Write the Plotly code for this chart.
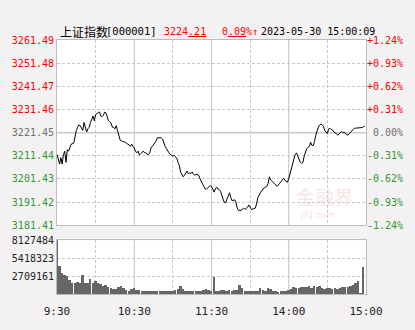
import plotly.graph_objects as go

# ---------------- data ----------------
pre_close = 3221.45
price_ticks = [3181.41, 3191.42, 3201.43, 3211.44, 3221.45, 3231.46, 3241.47, 3251.48, 3261.49]
pct_labels = ["-1.24%", "-0.93%", "-0.62%", "-0.31%", "0.00%", "+0.31%", "+0.62%", "+0.93%", "+1.24%"]
vol_ticks = [2709161, 5418323, 8127484]
time_ticks = [0, 30, 60, 90, 120, 150, 180, 210, 240]
time_labels = ["9:30", "", "10:30", "", "11:30", "", "14:00", "", "15:00"]

minutes = [0, 2, 3, 4, 5, 6, 7, 8, 9, 10, 11, 13, 14, 15, 16, 17, 18, 19, 20, 21, 22, 23, 24, 25, 26, 27, 28, 29, 30,
           32, 33, 34, 35, 36, 37, 38, 39, 40, 41, 42, 43, 44, 45, 46, 47, 48, 49, 50, 52, 53, 55, 56, 57, 58, 59, 60,
           61, 62, 63, 64, 65, 66, 67, 68, 69, 70, 71, 72, 73, 74, 75, 76, 77, 78, 79, 80, 81, 82, 83, 84, 85, 86, 87,
           88, 89, 90, 91, 92, 93, 94, 95, 96, 97, 98, 99, 100, 101, 102, 103, 104, 105, 106, 107, 108, 109, 110, 111,
           112, 113, 114, 115, 116, 117, 118, 119, 120, 121, 122, 123, 124, 125, 126, 127, 128, 129, 130, 131, 132, 134,
           135, 136, 138, 139, 140, 141, 143, 144, 145, 146, 148, 149, 150, 151, 153, 154, 155, 156, 158, 159, 160, 161,
           163, 164, 165, 166, 168, 169, 170, 171, 173, 174, 175, 176, 178, 179, 180, 181, 182, 183, 184, 185, 186, 187,
           188, 189, 190, 191, 192, 193, 194, 195, 196, 197, 198, 199, 200, 201, 202, 203, 204, 205, 206, 207, 208, 209,
           210, 211, 212, 213, 214, 215, 216, 217, 218, 219, 220, 221, 222, 223, 224, 225, 226, 227, 228, 229, 230, 231,
           232, 233, 234, 235, 236, 237, 238, 239]
prices = [3212.04, 3207.89, 3210.66, 3207.89, 3212.04, 3213.42, 3208.59, 3214.12, 3213.42, 3215.50, 3216.47, 3216.88,
          3220.34, 3222.41, 3223.79, 3224.76, 3224.48, 3223.10, 3222.41, 3225.86, 3223.79, 3221.72, 3223.10, 3223.79,
          3225.86, 3227.25, 3228.63, 3226.56, 3229.32, 3230.01, 3230.43, 3228.63, 3228.35, 3228.91, 3230.29, 3230.01,
          3228.63, 3226.56, 3226.14, 3225.59, 3223.79, 3223.79, 3223.10, 3224.48, 3222.41, 3220.34, 3218.26, 3217.85,
          3217.57, 3217.29, 3216.47, 3216.19, 3215.50, 3216.47, 3215.50, 3214.81, 3213.42, 3212.73, 3213.42, 3211.77,
          3212.32, 3213.01, 3213.42, 3212.73, 3212.73, 3212.04, 3212.04, 3212.73, 3214.81, 3215.50, 3216.19, 3216.88,
          3217.85, 3219.23, 3219.23, 3218.95, 3219.23, 3218.68, 3216.88, 3215.50, 3214.53, 3213.42, 3212.73, 3212.04,
          3211.77, 3211.35, 3211.63, 3210.94, 3210.38, 3208.59, 3207.20, 3204.44, 3203.06, 3202.37, 3203.06, 3203.75,
          3204.85, 3203.75, 3204.02, 3203.75, 3204.44, 3203.47, 3203.06, 3203.47, 3203.33, 3203.06, 3201.67, 3200.29,
          3198.91, 3198.22, 3197.11, 3197.11, 3197.53, 3197.94, 3198.50, 3198.22, 3197.11, 3195.73, 3197.11, 3197.94,
          3197.11, 3196.84, 3196.15, 3194.07, 3192.69, 3191.31, 3191.03, 3192.69, 3195.45, 3193.38, 3192.00, 3192.41,
          3191.31, 3188.82, 3187.85, 3187.85, 3188.54, 3188.82, 3188.27, 3189.23, 3190.20, 3189.23, 3188.27, 3188.54,
          3188.82, 3190.62, 3193.38, 3195.45, 3196.56, 3197.11, 3197.53, 3198.22, 3199.60, 3202.37, 3200.98, 3199.88,
          3199.60, 3198.91, 3198.22, 3199.60, 3200.29, 3201.26, 3201.67, 3200.29, 3200.02, 3201.67, 3203.75, 3205.13,
          3207.89, 3209.55, 3212.04, 3212.73, 3211.35, 3209.97, 3208.59, 3208.17, 3208.59, 3211.35, 3213.42, 3214.53,
          3215.08, 3215.50, 3217.29, 3215.91, 3215.91, 3217.57, 3220.34, 3222.41, 3223.79, 3224.76, 3225.17, 3224.76,
          3224.21, 3222.41, 3221.72, 3221.03, 3223.10, 3223.38, 3222.82, 3222.69, 3221.72, 3221.44, 3221.03, 3220.34,
          3221.03, 3221.72, 3221.99, 3221.44, 3221.72, 3221.03, 3220.61, 3220.34, 3221.03, 3221.72, 3222.41, 3223.10,
          3223.38, 3223.38, 3223.38, 3223.51, 3223.38, 3223.38, 3223.65, 3224.00, 3224.21]

vol_minutes = list(range(0, 240, 2))
volumes = [8127484, 4200000, 3140000, 2850000, 2660000, 2000000, 1650000, 1550000, 1790000, 1550000,
           2850000, 1600000, 1650000, 2180000, 1550000, 1940000, 1690000, 1450000, 1210000, 1350000,
           970000, 870000, 770000, 730000, 1060000, 1110000, 820000, 580000, 480000, 770000,
           820000, 630000, 580000, 480000, 480000, 440000, 480000, 440000, 390000, 440000,
           440000, 390000, 480000, 390000, 390000, 440000, 530000, 730000, 1210000, 730000,
           480000, 390000, 390000, 390000, 390000, 390000, 480000, 530000, 680000, 530000,
           480000, 2560000, 480000, 390000, 580000, 630000, 480000, 580000, 480000, 630000,
           580000, 1310000, 820000, 480000, 390000, 480000, 480000, 440000, 390000, 820000,
           630000, 480000, 870000, 680000, 390000, 480000, 240000, 390000, 440000, 480000,
           630000, 730000, 970000, 820000, 920000, 970000, 970000, 970000, 1210000, 870000,
           1110000, 970000, 1110000, 920000, 770000, 820000, 820000, 730000, 870000, 770000,
           870000, 970000, 1060000, 970000, 1160000, 1350000, 1650000, 1940000, 100000, 4110000]

# ---------------- styling ----------------
RED, GREEN, GRAY = "#ff0000", "#2f9a2f", "#707070"
GRID = "#c8c8c8"
BORDER = "#bcbcbc"
MONO = "DejaVu Sans Mono"


def col(v):
    if v > pre_close + 1e-6:
        return RED
    if v < pre_close - 1e-6:
        return GREEN
    return GRAY


left_text = [f'<span style="color:{col(v)}">{v:.2f}</span>' for v in price_ticks]
right_text = [f'<span style="color:{col(v)}">{lab.rjust(6, chr(160))}</span>'
              for v, lab in zip(price_ticks, pct_labels)]

fig = go.Figure()
fig.add_trace(go.Scatter(x=minutes, y=prices, mode="lines", line=dict(color="#000000", width=1),
                         xaxis="x", yaxis="y", showlegend=False, hoverinfo="skip"))
fig.add_trace(go.Scatter(x=[0, 240], y=[pre_close, pre_close], mode="lines", line=dict(width=0),
                         xaxis="x", yaxis="y3", showlegend=False, hoverinfo="skip"))
fig.add_trace(go.Bar(x=vol_minutes, y=volumes, width=1.5, marker=dict(color="#666666", line=dict(width=0)),
                     xaxis="x2", yaxis="y2", showlegend=False, hoverinfo="skip"))

main_dom = [0.2706, 1.0]
vol_dom = [0.0, 0.2113]

fig.update_layout(
    width=415, height=330,
    margin=dict(l=53, r=42, t=40, b=25),
    paper_bgcolor="#f3f1f2",
    plot_bgcolor="#ffffff",
    font=dict(family=MONO, size=10, color="#333333"),
    bargap=0,
    xaxis=dict(domain=[0, 1], anchor="y", range=[0, 240], tickvals=time_ticks, showticklabels=False,
               showgrid=True, gridcolor=GRID, griddash="3px,2px", gridwidth=1, zeroline=False,
               showline=True, mirror=True, linecolor=BORDER, ticks=""),
    yaxis=dict(domain=main_dom, anchor="x", range=[price_ticks[0], price_ticks[-1]], tickvals=price_ticks,
               ticktext=left_text, showgrid=True, gridcolor=GRID, griddash="3px,2px", zeroline=False,
               showline=True, mirror=True, linecolor=BORDER, ticks="", ticklabelstandoff=0),
    yaxis3=dict(domain=main_dom, anchor="x", overlaying="y", side="right",
                range=[price_ticks[0], price_ticks[-1]], tickvals=price_ticks, ticktext=right_text,
                showgrid=False, zeroline=False, ticks="", ticklabelstandoff=0),
    xaxis2=dict(domain=[0, 1], anchor="y2", range=[0, 240], tickvals=time_ticks, ticktext=time_labels,
                showgrid=True, gridcolor=GRID, griddash="3px,2px", zeroline=False,
                showline=True, mirror=True, linecolor=BORDER, ticks="outside", ticklen=7,
                tickcolor="rgba(0,0,0,0)",
                tickfont=dict(family=MONO, size=11, color="#222222")),
    yaxis2=dict(domain=vol_dom, anchor="x2", range=[0, vol_ticks[-1]], tickvals=vol_ticks,
                ticktext=[str(v) for v in vol_ticks], showgrid=True, gridcolor=GRID, griddash="3px,2px",
                zeroline=False, showline=True, mirror=True, linecolor=BORDER, ticks="",
                ticklabelstandoff=0, tickfont=dict(family=MONO, size=10, color="#222222")),
)

# solid reference lines (hour lines and previous close)
shapes = []
for t in [60, 120, 180]:
    shapes.append(dict(type="line", xref="x", yref="y domain", x0=t, x1=t, y0=0, y1=1,
                       line=dict(color=GRID, width=1), layer="below"))
    shapes.append(dict(type="line", xref="x2", yref="y2 domain", x0=t, x1=t, y0=0, y1=1,
                       line=dict(color=GRID, width=1), layer="below"))
shapes.append(dict(type="line", xref="x domain", yref="y", x0=0, x1=1, y0=pre_close, y1=pre_close,
                   line=dict(color=GRID, width=1.5), layer="below"))
fig.update_layout(shapes=shapes)


def px_x(p):
    return (p - 53) / 320.0


def px_y(p):
    return (305 - p) / 265.0


ann = [
    dict(text="上证指数", x=px_x(54), y=px_y(31), font=dict(family="Noto Sans CJK SC", size=12, color="#000000")),
    dict(text="[000001]", x=px_x(102), y=px_y(31), font=dict(family=MONO, size=10.5, color="#000000")),
    dict(text="3224<u>.21</u>", x=px_x(162), y=px_y(31), font=dict(family=MONO, size=10, color=RED)),
    dict(text="0<u>.09</u>%↑", x=px_x(222), y=px_y(31), font=dict(family=MONO, size=10, color=RED)),
    dict(text="2023-05-30 15:00:09", x=px_x(262), y=px_y(31), font=dict(family=MONO, size=10, color="#000000")),
    dict(text="金融界", x=px_x(298), y=px_y(203), font=dict(family="Noto Sans CJK SC", size=19,
                                                            color="rgba(225,160,160,0.28)")),
    dict(text="JRJ.com", x=px_x(303), y=px_y(223), font=dict(family="DejaVu Sans", size=9,
                                                           color="rgba(225,160,160,0.35)")),
]
for a in ann:
    a.update(xref="paper", yref="paper", xanchor="left", yanchor="middle", showarrow=False)
fig.update_layout(annotations=ann)

fig.write_html("out.html")
